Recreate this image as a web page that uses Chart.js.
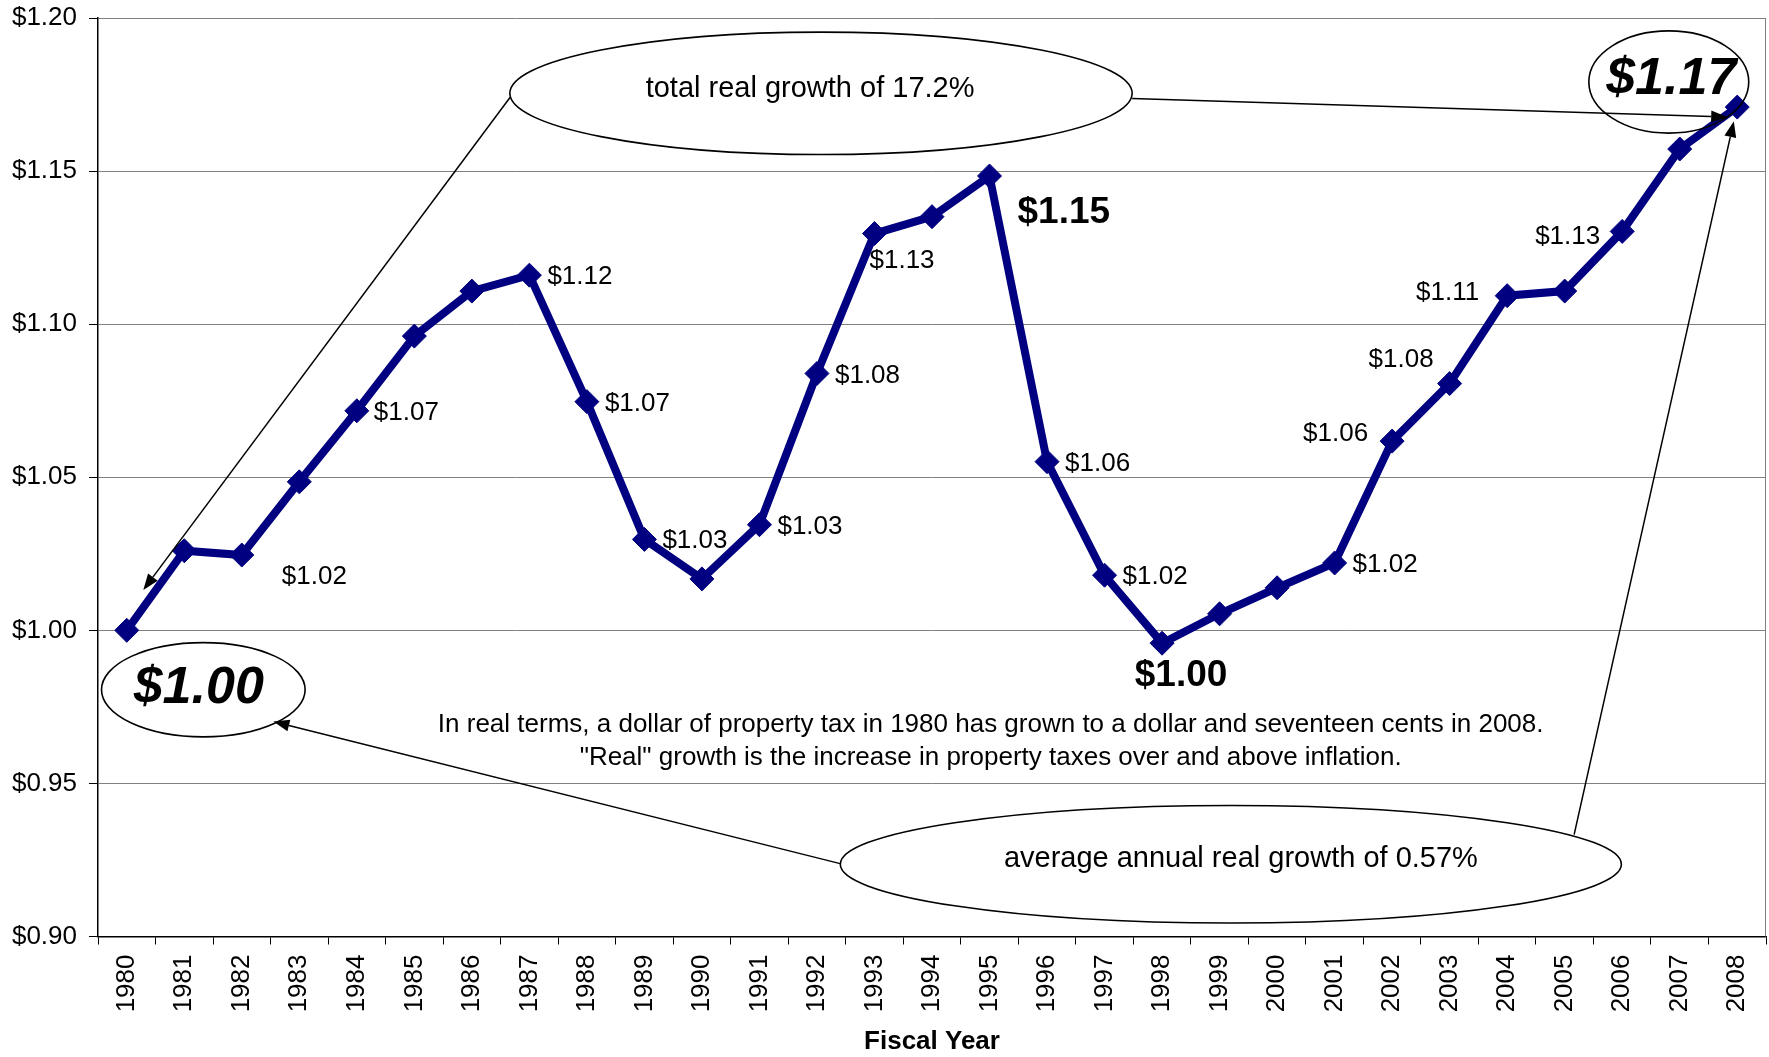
<!DOCTYPE html>
<html>
<head>
<meta charset="utf-8">
<script src="https://cdn.jsdelivr.net/npm/chart.js@4/dist/chart.umd.min.js"></script>
<style>html,body{margin:0;padding:0;background:#fff;overflow:hidden}canvas{display:block}</style>
</head>
<body>
<canvas id="c" width="1769" height="1057"></canvas>
<script>
// ---- data ----
const years = ['1980','1981','1982','1983','1984','1985','1986','1987','1988','1989',
  '1990','1991','1992','1993','1994','1995','1996','1997','1998','1999',
  '2000','2001','2002','2003','2004','2005','2006','2007','2008'];
const values = [1.000, 1.026, 1.0246, 1.0485, 1.0717, 1.0961, 1.1108, 1.116, 1.0747, 1.0297,
  1.0168, 1.0345, 1.0839, 1.1296, 1.1351, 1.1484, 1.0551, 1.0180, 0.9958, 1.0054,
  1.0139, 1.0220, 1.0618, 1.0806, 1.1093, 1.1108, 1.1303, 1.1572, 1.1709];
const yMin = 0.90, yMax = 1.20, yStep = 0.05;
const xTitle = 'Fiscal Year';
const topNote = 'total real growth of 17.2%';
const bottomNote = 'average annual real growth of 0.57%';
const midNote = ['In real terms, a dollar of property tax in 1980 has grown to a dollar and seventeen cents in 2008.',
  '"Real" growth is the increase in property taxes over and above inflation.'];

// ---- layout of point labels (offsets in px from the point) ----
const FONT = '"Liberation Sans", Arial, sans-serif';
const labelLayout = {
  0:  {dx: 72, dy: 58, align: 'center', font: 'italic bold 52px ' + FONT},
  2:  {dx: 40, dy: 22, align: 'left'},
  4:  {dx: 17, dy: 2, align: 'left'},
  7:  {dx: 18, dy: 2, align: 'left'},
  8:  {dx: 18, dy: 2, align: 'left'},
  9:  {dx: 18, dy: 1, align: 'left'},
  11: {dx: 18, dy: 2, align: 'left'},
  12: {dx: 18, dy: 2, align: 'left'},
  13: {dx: -5, dy: 27, align: 'left'},
  15: {dx: 28, dy: 37, align: 'left', font: 'bold 37px ' + FONT},
  16: {dx: 18, dy: 2, align: 'left'},
  17: {dx: 18, dy: 2, align: 'left'},
  18: {dx: 19, dy: 33, align: 'center', font: 'bold 37px ' + FONT},
  21: {dx: 18, dy: 2, align: 'left'},
  22: {dx: -24, dy: -7, align: 'right'},
  23: {dx: -16, dy: -24, align: 'right'},
  24: {dx: -28, dy: -3, align: 'right'},
  26: {dx: -22, dy: 5, align: 'right'},
  28: {dx: -66, dy: -27, align: 'center', font: 'italic bold 52px ' + FONT}
};

// annotation geometry in data space (category index, value)
const ellipses = [
  {cx: 12.07, cy: 1.1754, rx: 5.41, ry: 0.0200},
  {cx: 26.81, cy: 1.1791, rx: 1.39, ry: 0.0167},
  {cx: 1.331, cy: 0.9806, rx: 1.77, ry: 0.0154},
  {cx: 19.196, cy: 0.9236, rx: 6.79, ry: 0.0192}
];
const arrows = [
  {x1: 6.666, y1: 1.1741, x2: 0.288, y2: 1.0132},
  {x1: 17.479, y1: 1.1737, x2: 27.825, y2: 1.1677},
  {x1: 12.404, y1: 0.9238, x2: 2.549, y2: 0.9702},
  {x1: 25.164, y1: 0.9333, x2: 27.94, y2: 1.1663}
];

const annotPlugin = {
  id: 'annot',
  afterDatasetsDraw(chart) {
    const {ctx, chartArea, scales: {x, y}} = chart;
    const x0 = x.getPixelForValue(0);
    const step = x.getPixelForValue(1) - x0;
    const X = i => x0 + i * step;
    const Y = v => y.getPixelForValue(v);
    const pv = (Y(1.0) - Y(1.1)) / 0.1;
    ctx.save();
    // right border of plot area
    ctx.strokeStyle = '#808080';
    ctx.lineWidth = 1;
    ctx.beginPath();
    ctx.moveTo(chartArea.right - 0.5, chartArea.top);
    ctx.lineTo(chartArea.right - 0.5, chartArea.bottom);
    ctx.stroke();

    // ellipses
    ctx.strokeStyle = '#000';
    ctx.lineWidth = 1.6;
    ellipses.forEach(e => {
      ctx.beginPath();
      ctx.ellipse(X(e.cx), Y(e.cy), e.rx * step, e.ry * pv, 0, 0, Math.PI * 2);
      ctx.stroke();
    });
    // arrows
    ctx.lineWidth = 1.5;
    ctx.fillStyle = '#000';
    arrows.forEach(a => {
      const sx = X(a.x1), sy = Y(a.y1), ex = X(a.x2), ey = Y(a.y2);
      const ang = Math.atan2(ey - sy, ex - sx);
      const L = 16, W = 6;
      const bx = ex - L * Math.cos(ang), by = ey - L * Math.sin(ang);
      ctx.beginPath();
      ctx.moveTo(sx, sy);
      ctx.lineTo(bx, by);
      ctx.stroke();
      ctx.beginPath();
      ctx.moveTo(ex, ey);
      ctx.lineTo(bx + W * Math.sin(ang), by - W * Math.cos(ang));
      ctx.lineTo(bx - W * Math.sin(ang), by + W * Math.cos(ang));
      ctx.closePath();
      ctx.fill();
    });

    // point labels
    ctx.textBaseline = 'middle';
    ctx.fillStyle = '#000';
    const meta = chart.getDatasetMeta(0);
    Object.keys(labelLayout).forEach(k => {
      const i = +k, L = labelLayout[k];
      const pt = meta.data[i];
      ctx.font = L.font || ('26px ' + FONT);
      ctx.textAlign = L.align;
      ctx.fillText('$' + values[i].toFixed(2), pt.x + L.dx, pt.y + L.dy);
    });

    // notes
    ctx.font = '29px ' + FONT;
    ctx.textAlign = 'center';
    ctx.fillText(topNote, X(11.88), Y(1.1767));
    ctx.fillText(bottomNote, X(19.37), Y(0.9253));
    ctx.font = '26px ' + FONT;
    ctx.fillText(midNote[0], X(15.02), Y(0.9691));
    ctx.fillText(midNote[1], X(15.02), Y(0.9582));
    ctx.restore();
  }
};

new Chart(document.getElementById('c'), {
  type: 'line',
  data: {
    labels: years,
    datasets: [{
      data: values,
      borderColor: '#000080',
      backgroundColor: '#000080',
      borderWidth: 8,
      tension: 0,
      pointStyle: 'rectRot',
      pointRadius: 12,
      pointHoverRadius: 12,
      pointBackgroundColor: '#000080',
      pointBorderColor: '#000080',
      pointBorderWidth: 1,
      fill: false,
      clip: false
    }]
  },
  options: {
    responsive: false,
    devicePixelRatio: 1,
    animation: false,
    events: [],
    layout: {autoPadding: false, padding: {top: 18, right: 3, left: 0, bottom: 0}},
    plugins: {legend: {display: false}, tooltip: {enabled: false}},
    scales: {
      x: {
        type: 'category',
        offset: true,
        grid: {offset: true, drawOnChartArea: false, tickLength: 8, tickColor: '#000', lineWidth: 1},
        border: {color: '#000', width: 1.5},
        ticks: {
          maxRotation: 90, minRotation: 90, padding: 10, autoSkip: false,
          color: '#000', font: {family: FONT, size: 26}
        },
        title: {display: true, text: xTitle, color: '#000', padding: {top: 0, bottom: 0},
          font: {family: FONT, size: 26, weight: 'bold'}},
        afterFit(s) { s.height = 120.5; s.paddingLeft = 0; s.paddingRight = 0; s.paddingTop = 0; s.paddingBottom = 0; }
      },
      y: {
        min: yMin, max: yMax,
        grid: {color: '#808080', lineWidth: 1, tickLength: 9, tickColor: '#000'},
        border: {color: '#000', width: 1.5},
        ticks: {
          stepSize: yStep, padding: 12, color: '#000',
          font: {family: FONT, size: 26},
          callback: v => '$' + Number(v).toFixed(2)
        },
        afterFit(s) { s.width = 98; s.paddingLeft = 0; s.paddingRight = 0; s.paddingTop = 0; s.paddingBottom = 0; }
      }
    }
  },
  plugins: [annotPlugin]
});
</script>
</body>
</html>
